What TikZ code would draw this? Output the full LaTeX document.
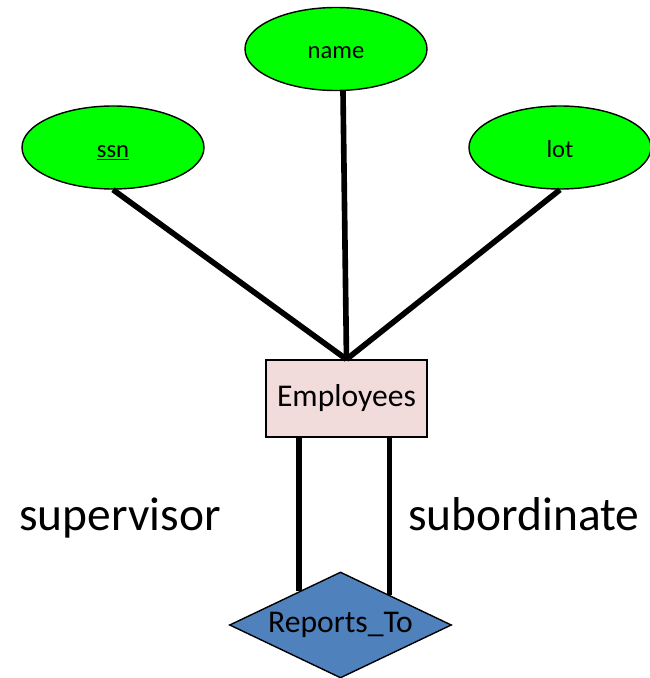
\documentclass[tikz,border=0pt]{standalone}
\usepackage{fontspec}
\setmainfont{Carlito}
\usepackage{xcolor}
\definecolor{attrgreen}{HTML}{00FF00}
\definecolor{entpink}{HTML}{F2DCDB}
\definecolor{relblue}{HTML}{4F81BD}
\usetikzlibrary{shapes, calc}

\begin{document}
\begin{tikzpicture}[
    attr/.style={ellipse, draw, thick, fill=attrgreen, minimum width=3.64cm, minimum height=1.66cm, text height=11pt, text depth=0pt, font=\fontsize{14}{16}\selectfont},
    entity/.style={rectangle, draw, thick, fill=entpink, minimum width=3.22cm, minimum height=1.54cm, font=\fontsize{18}{21}\selectfont},
    rel/.style={diamond, aspect=2.1, draw, thick, fill=relblue, inner sep=0pt, minimum width=4.44cm, minimum height=2.12cm, font=\fontsize{18}{21}\selectfont},
    link/.style={line width=3.2pt},
    role/.style={font=\fontsize{27}{31}\selectfont}]
    \useasboundingbox (-6.93,7.97) rectangle (6.07,-5.59);

    % Entity and relationship
    \node[entity] (emp) at (0,0) {Employees};
    \node[rel] (reports) at (-0.12,-4.53) {Reports\_To};

    % Attributes
    \node[attr] (name) at (-0.21,6.99) {name};
    \node[attr] (ssn) at (-4.67,5.02) {\underline{ssn}};
    \node[attr] (lot) at (4.27,5.02) {lot};

    % Attribute links
    \draw[link] (ssn.south) -- (emp.north);
    \draw[link] ([xshift=0.14cm]name.south) -- (emp.north);
    \draw[link] (lot.south) -- (emp.north);

    % Role links
    \coordinate (sup) at ($(reports.north)!0.37!(reports.west)$);
    \coordinate (sub) at ($(reports.north)!0.44!(reports.east)$);
    \draw[link] (sup |- emp.south) -- (sup);
    \draw[link] (sub |- emp.south) -- (sub);

    % Role labels
    \node[role] (suplabel) at (-4.53,-2.39) {supervisor};
    \node[role] (sublabel) at (3.55,-2.31) {subordinate};
\end{tikzpicture}
\end{document}
